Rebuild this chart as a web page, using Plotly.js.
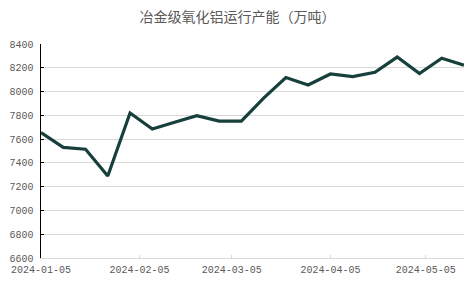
<!DOCTYPE html>
<html>
<head>
<meta charset="utf-8">
<script src="https://cdn.plot.ly/plotly-3.0.1.min.js"></script>
<style>html,body{margin:0;padding:0;background:#fff;}#chart{width:475px;height:286px;}</style>
</head>
<body>
<div id="chart"></div>
<script>
const dates = ["2024-01-05","2024-01-12","2024-01-19","2024-01-26","2024-02-02","2024-02-09","2024-02-16","2024-02-23","2024-03-01","2024-03-08","2024-03-15","2024-03-22","2024-03-29","2024-04-05","2024-04-12","2024-04-19","2024-04-26","2024-05-03","2024-05-10","2024-05-17"];
const capacity = [7655, 7530, 7515, 7290, 7820, 7685, 7742, 7797, 7752, 7752, 7945, 8118, 8055, 8148, 8125, 8162, 8290, 8152, 8280, 8222];
const xTicks = ["2024-01-05","2024-02-05","2024-03-05","2024-04-05","2024-05-05"];
const yTicks = [6600, 6800, 7000, 7200, 7400, 7600, 7800, 8000, 8200, 8400];
const chartTitle = "冶金级氧化铝运行产能（万吨）";

const trace = {
  x: dates, y: capacity, type: "scatter", mode: "lines",
  line: {color: "#173f3c", width: 3.2},
  hoverinfo: "skip"
};
const tickFont = {family: "Liberation Mono, DejaVu Sans Mono, monospace", size: 10, color: "#595959"};
const layout = {
  width: 475, height: 286,
  margin: {l: 41, r: 11, t: 44, b: 28},
  paper_bgcolor: "#ffffff", plot_bgcolor: "#ffffff",
  showlegend: false,
  title: {text: chartTitle, x: 0.5, xanchor: "center", y: 0.94, yanchor: "middle",
    font: {family: "Noto Sans CJK SC, sans-serif", size: 14, color: "#595959"}},
  xaxis: {
    type: "date", range: ["2024-01-05", "2024-05-17"],
    tickmode: "array", tickvals: xTicks, ticktext: xTicks,
    showgrid: false, zeroline: false,
    showline: true, linecolor: "#d9d9d9", linewidth: 1,
    ticks: "inside", ticklen: 3, tickcolor: "#d9d9d9",
    tickfont: tickFont, ticklabelstandoff: 2
  },
  yaxis: {
    range: [6600, 8400], tickmode: "array", tickvals: yTicks,
    showgrid: true, gridcolor: "#d9d9d9", gridwidth: 1,
    zeroline: false, showline: true, linecolor: "#000000", linewidth: 1.5,
    ticks: "inside", ticklen: 3, tickcolor: "#000000",
    tickfont: tickFont, ticklabelstandoff: 4
  }
};
Plotly.newPlot("chart", [trace], layout, {staticPlot: true, displayModeBar: false});
</script>
</body>
</html>
